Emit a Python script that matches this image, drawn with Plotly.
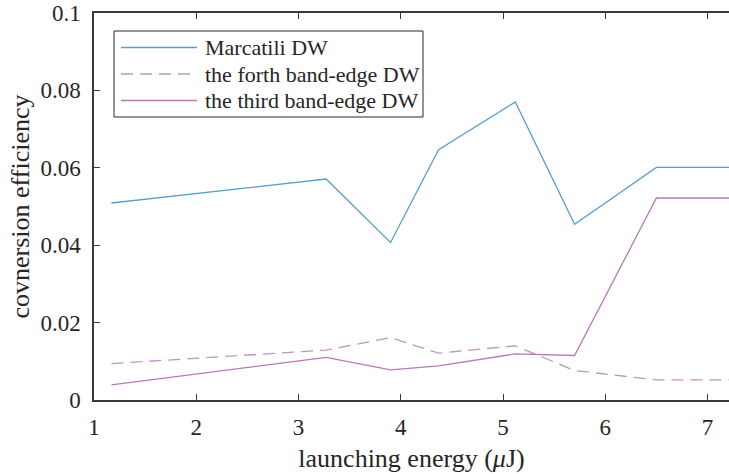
import plotly.graph_objects as go

# launching energy (uJ) at each simulated point
energy = [1.17, 3.27, 3.90, 4.37, 5.12, 5.70, 6.50, 7.25]

# conversion efficiency per dispersive-wave branch
marcatili = [0.0509, 0.0571, 0.0407, 0.0647, 0.0770, 0.0454, 0.0601, 0.0601]
forth_edge = [0.0094, 0.0129, 0.0161, 0.0121, 0.0140, 0.0076, 0.0052, 0.0052]
third_edge = [0.0039, 0.0110, 0.0078, 0.0088, 0.0119, 0.0115, 0.0522, 0.0522]

series_names = ["Marcatili DW", "the forth band-edge DW", "the third band-edge DW"]
series_colors = ["#5a9fc8", "#c393c6", "#b77ab9"]
series_dash = ["solid", "12px,7px", "solid"]

x_ticks = [1, 2, 3, 4, 5, 6, 7]
y_ticks = [0, 0.02, 0.04, 0.06, 0.08, 0.1]
y_tick_text = ["0", "0.02", "0.04", "0.06", "0.08", "0.1"]

FONT = "Liberation Serif, Times New Roman, serif"
AXIS = "#3a3a3a"
TEXT = "#262626"

W, H = 729, 474
M = dict(l=94, r=0, t=13, b=74)
PW, PH = W - M["l"] - M["r"], H - M["t"] - M["b"]


def px(x):
    return (x - M["l"]) / PW


def py(y):
    return (H - M["b"] - y) / PH


fig = go.Figure()
for ys, name, col, dash in zip([marcatili, forth_edge, third_edge],
                               series_names, series_colors, series_dash):
    fig.add_trace(go.Scatter(x=energy, y=ys, mode="lines", name=name,
                             line=dict(color=col, width=1.3, dash=dash),
                             showlegend=False))

# boxed legend in the upper-left corner
shapes = [dict(type="rect", xref="paper", yref="paper",
               x0=px(114), x1=px(423), y0=py(31), y1=py(117),
               line=dict(color=TEXT, width=1), fillcolor="white", layer="above")]
annotations = []
for i, (name, col, dash) in enumerate(zip(series_names, series_colors, series_dash)):
    row_y = 47.5 + 26.5 * i
    shapes.append(dict(type="line", xref="paper", yref="paper",
                       x0=px(121), x1=px(197), y0=py(row_y), y1=py(row_y),
                       line=dict(color=col, width=1.3, dash=dash), layer="above"))
    annotations.append(dict(xref="paper", yref="paper", x=px(203), y=py(row_y),
                            xanchor="left", yanchor="middle", showarrow=False,
                            text=name, font=dict(family=FONT, size=22, color=TEXT)))

fig.update_layout(
    width=W, height=H, margin=M,
    paper_bgcolor="white", plot_bgcolor="white",
    font=dict(family=FONT, size=23, color=TEXT),
    showlegend=False, shapes=shapes, annotations=annotations,
)
fig.update_xaxes(
    range=[1, 7.21], tickvals=x_ticks, ticktext=[str(v) for v in x_ticks],
    showgrid=False, zeroline=False,
    showline=True, linecolor=AXIS, linewidth=1.5, mirror="ticks",
    ticks="inside", ticklen=6, tickcolor=AXIS, tickwidth=1,
    ticklabelstandoff=6,
    tickfont=dict(family=FONT, size=23, color=TEXT),
    title=dict(text="launching energy (<i>\u03bc</i>J)", standoff=9,
               font=dict(family=FONT, size=26, color=TEXT)),
)
fig.update_yaxes(
    range=[0, 0.1], tickvals=y_ticks, ticktext=y_tick_text,
    showgrid=False, zeroline=False,
    showline=True, linecolor=AXIS, linewidth=1.5, mirror=False,
    ticks="inside", ticklen=6, tickcolor=AXIS, tickwidth=1,
    ticklabelstandoff=7,
    tickfont=dict(family=FONT, size=23, color=TEXT),
    title=dict(text="covnersion efficiency", standoff=3,
               font=dict(family=FONT, size=26, color=TEXT)),
)

fig.write_html("out.html")
